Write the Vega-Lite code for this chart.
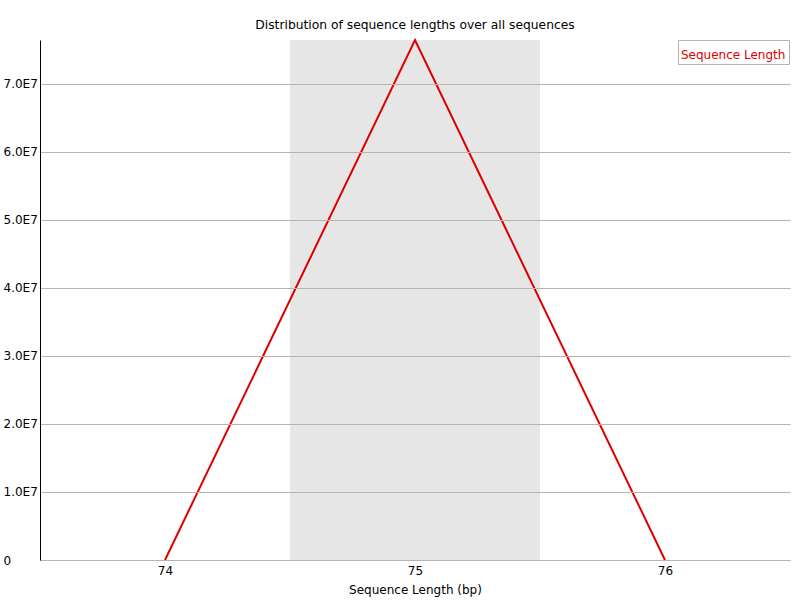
{
  "$schema": "https://vega.github.io/schema/vega-lite/v6.json",
  "autosize": {"type": "none"},
  "padding": {"left": 40, "top": 40, "right": 10, "bottom": 40},
  "width": 750,
  "height": 520,
  "background": "white",
  "config": {
    "font": "DejaVu Sans",
    "view": {"stroke": null}
  },
  "title": {
    "text": "Distribution of sequence lengths over all sequences",
    "fontSize": 12.3,
    "fontWeight": "normal",
    "color": "black",
    "anchor": "middle",
    "offset": 5
  },
  "datasets": {
    "band": [{"start": 74.5, "end": 75.5}],
    "lengths": [
      {"length": 74, "count": 0, "series": "Sequence Length"},
      {"length": 75, "count": 76470000, "series": "Sequence Length"},
      {"length": 76, "count": 0, "series": "Sequence Length"}
    ]
  },
  "layer": [
    {
      "data": {"name": "band"},
      "mark": {"type": "rect", "color": "#e6e6e6"},
      "encoding": {
        "x": {"field": "start", "type": "quantitative", "scale": {"domain": [73.5, 76.5], "nice": false}},
        "x2": {"field": "end"}
      }
    },
    {
      "data": {"name": "lengths"},
      "mark": {"type": "line", "strokeWidth": 2},
      "encoding": {
        "x": {
          "field": "length",
          "type": "quantitative",
          "scale": {"domain": [73.5, 76.5], "nice": false},
          "axis": {
            "values": [74, 75, 76],
            "format": "d",
            "grid": false,
            "ticks": false,
            "tickSize": 0,
            "domainColor": "#b4b4b4",
            "labelFontSize": 12,
            "labelColor": "black",
            "labelPadding": 5,
            "title": "Sequence Length (bp)",
            "titleFontSize": 12,
            "titleFontWeight": "normal",
            "titleColor": "black",
            "titlePadding": 8
          }
        },
        "y": {
          "field": "count",
          "type": "quantitative",
          "scale": {"domain": [0, 76470000], "nice": false},
          "axis": {
            "values": [0, 10000000, 20000000, 30000000, 40000000, 50000000, 60000000, 70000000],
            "labelExpr": "datum.value == 0 ? '0' : format(datum.value / 10000000, '.1f') + 'E7'",
            "grid": true,
            "gridColor": "#b4b4b4",
            "domainColor": "black",
            "ticks": false,
            "tickSize": 0,
            "labelAlign": "left",
            "labelPadding": 37,
            "labelFontSize": 12,
            "labelColor": "black",
            "title": null,
            "zindex": 1
          }
        },
        "color": {
          "field": "series",
          "type": "nominal",
          "scale": {"range": ["#dc0000"]},
          "legend": {
            "title": null,
            "orient": "none",
            "legendX": 638,
            "legendY": 0,
            "symbolType": "square",
            "symbolSize": 289,
            "symbolOpacity": 0,
            "symbolStrokeWidth": 0,
            "labelOffset": -17,
            "labelColor": "#dc0000",
            "labelFontSize": 12,
            "strokeColor": "#b4b4b4",
            "fillColor": "white",
            "padding": 3,
            "encode": {"labels": {"update": {"dy": {"value": 3}}}}
          }
        }
      }
    }
  ]
}
